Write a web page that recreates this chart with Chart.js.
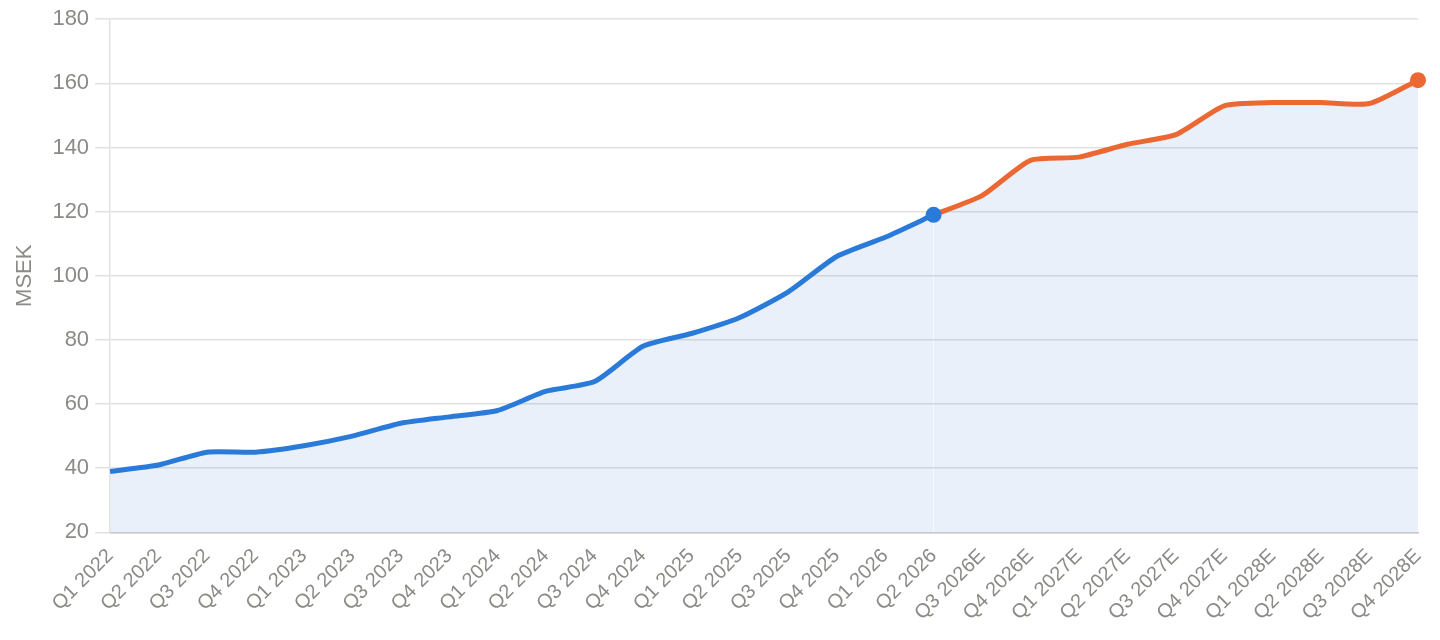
<!DOCTYPE html>
<html>
<head>
<meta charset="utf-8">
<script src="https://cdn.jsdelivr.net/npm/chart.js@4/dist/chart.umd.min.js"></script>
<style>
    html, body { margin: 0; padding: 0; background: #fff; }
    #wrap { width: 1440px; height: 640px; }
</style>
</head>
<body>
<div id="wrap"><canvas id="chart"></canvas></div>
<script>
(function () {
    "use strict";

    // Data
    const categories = [
        "Q1 2022", "Q2 2022", "Q3 2022", "Q4 2022",
        "Q1 2023", "Q2 2023", "Q3 2023", "Q4 2023",
        "Q1 2024", "Q2 2024", "Q3 2024", "Q4 2024",
        "Q1 2025", "Q2 2025", "Q3 2025", "Q4 2025",
        "Q1 2026", "Q2 2026", "Q3 2026E", "Q4 2026E",
        "Q1 2027E", "Q2 2027E", "Q3 2027E", "Q4 2027E",
        "Q1 2028E", "Q2 2028E", "Q3 2028E", "Q4 2028E",
    ];
    // Q1 2022 .. Q2 2026
    const actualValues = [39, 41, 45, 45, 47, 50, 54, 56, 58, 64, 67, 78, 82, 87, 95, 106, 112, 119];
    // Q2 2026 .. Q4 2028E
    const estimateValues = [119, 125, 136, 137, 141, 144, 153, 154, 154, 153.7, 161];
    const yTicks = [20, 40, 60, 80, 100, 120, 140, 160, 180];

    const blue = "#2a7ad9";
    const orange = "#ec6833";
    const fillColor = "#e9f0fa";
    const textColor = "#8a8a86";
    const fontFamily = "'Liberation Sans', Arial, sans-serif";

    const actualData = categories.map((c, i) => (i < actualValues.length ? actualValues[i] : null));
    const estStart = actualValues.length - 1;
    const estimateData = categories.map((c, i) => (i >= estStart ? estimateValues[i - estStart] : null));

    // only the last point of each series gets a dot
    const lastIndex = (data) => data.length - 1 - [...data].reverse().findIndex((v) => v !== null);
    const lastPoint = (data) => (ctx) => (ctx.dataIndex === lastIndex(data) ? 8 : 0);

    const ctx = document.getElementById("chart").getContext("2d");

    new Chart(ctx, {
        type: "line",
        data: {
            labels: categories,
            datasets: [
                {
                    data: actualData,
                    borderColor: blue,
                    backgroundColor: fillColor,
                    pointBackgroundColor: blue,
                    pointBorderWidth: 0,
                    pointRadius: lastPoint(actualData),
                    borderWidth: 5,
                    tension: 0.2,
                    fill: "start",
                },
                {
                    data: estimateData,
                    borderColor: orange,
                    backgroundColor: fillColor,
                    pointBackgroundColor: orange,
                    pointBorderWidth: 0,
                    pointRadius: lastPoint(estimateData),
                    borderWidth: 5,
                    tension: 0.2,
                    fill: "start",
                },
            ],
        },
        options: {
            responsive: true,
            maintainAspectRatio: false,
            animation: false,
            layout: {
                padding: { top: 8, right: 22, left: 12, bottom: 11 },
            },
            plugins: {
                legend: { display: false },
                tooltip: { enabled: false },
                filler: { drawTime: "beforeDraw" },
            },
            scales: {
                x: {
                    grid: { display: false },
                    border: { display: true, color: "#c6c9cd", width: 1.5 },
                    ticks: {
                        color: textColor,
                        font: { family: fontFamily, size: 20 },
                        minRotation: 45,
                        maxRotation: 45,
                        autoSkip: false,
                        padding: 4,
                    },
                },
                y: {
                    min: 20,
                    max: 180,
                    afterBuildTicks: (scale) => {
                        scale.ticks = yTicks.map((v) => ({ value: v }));
                    },
                    grid: {
                        color: "rgba(120, 120, 100, 0.22)",
                        lineWidth: 1.5,
                        tickLength: 15,
                    },
                    border: { display: true, color: "#e2e2de", width: 1.5 },
                    ticks: {
                        color: textColor,
                        font: { family: fontFamily, size: 22 },
                        padding: 6,
                    },
                    title: {
                        display: true,
                        text: "MSEK",
                        color: textColor,
                        font: { family: fontFamily, size: 22 },
                        padding: { top: 0, bottom: 8 },
                    },
                },
            },
        },
    });
})();
</script>
</body>
</html>
